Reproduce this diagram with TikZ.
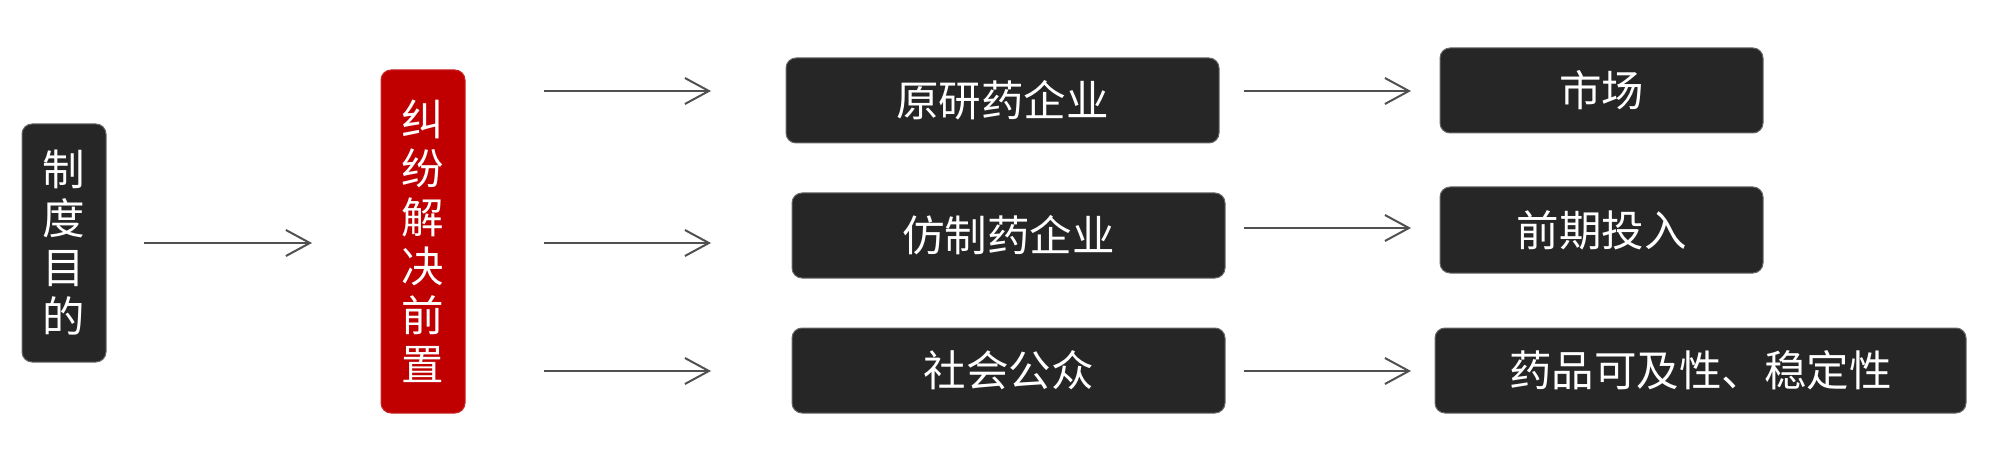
\documentclass[tikz,border=0pt]{standalone}
\usepackage{fontspec}
\setmainfont{Noto Sans CJK SC}
\usetikzlibrary{arrows.meta}
\definecolor{boxdark}{HTML}{262626}
\definecolor{boxred}{HTML}{C00000}
\definecolor{arrowgray}{HTML}{505050}
\begin{document}
\begin{tikzpicture}[x=1pt,y=-1pt,
  basebox/.style={rounded corners=10pt, inner sep=0pt, text=white,
    font=\fontsize{42.5}{49}\selectfont, align=center},
  darkbox/.style={basebox, fill=boxdark, draw=boxdark!70!white, line width=1pt},
  redbox/.style={basebox, fill=boxred, draw=boxred!85!white, line width=1pt},
  arr/.style={draw=arrowgray, line width=2pt, -{Straight Barb[length=24pt,width=26pt,line width=2pt]}}]
\useasboundingbox[fill=white] (0,0) rectangle (1999,449);
% nodes
\node[darkbox, minimum width=84, minimum height=238] (purpose) at (64,243) {制\\度\\目\\的};
\node[redbox, minimum width=84, minimum height=343] (pre) at (423,241.5) {纠\\纷\\解\\决\\前\\置};
\node[darkbox, minimum width=433, minimum height=85] (orig) at (1002.5,100.5) {原研药企业};
\node[darkbox, minimum width=433, minimum height=85] (gen) at (1008.5,235.5) {仿制药企业};
\node[darkbox, minimum width=433, minimum height=85] (pub) at (1008.5,370.5) {社会公众};
\node[darkbox, minimum width=323, minimum height=85] (market) at (1601.5,90.5) {市场};
\node[darkbox, minimum width=323, minimum height=86] (invest) at (1601.5,230) {前期投入};
\node[darkbox, minimum width=531, minimum height=85] (access) at (1700.5,370.5) {药品可及性、稳定性};
% arrow ends
\coordinate (a0s) at (144,243); \coordinate (a0e) at (312,243);
\coordinate (a1s) at (544,91);  \coordinate (a1e) at (711,91);
\coordinate (a2s) at (544,243); \coordinate (a2e) at (711,243);
\coordinate (a3s) at (544,371); \coordinate (a3e) at (711,371);
\coordinate (b1s) at (1244,91);  \coordinate (b1e) at (1411,91);
\coordinate (b2s) at (1244,228); \coordinate (b2e) at (1411,228);
\coordinate (b3s) at (1244,371); \coordinate (b3e) at (1411,371);
\draw[arr] (a0s) -- (a0e);
\draw[arr] (a1s) -- (a1e);
\draw[arr] (a2s) -- (a2e);
\draw[arr] (a3s) -- (a3e);
\draw[arr] (b1s) -- (b1e);
\draw[arr] (b2s) -- (b2e);
\draw[arr] (b3s) -- (b3e);
\end{tikzpicture}
\end{document}
